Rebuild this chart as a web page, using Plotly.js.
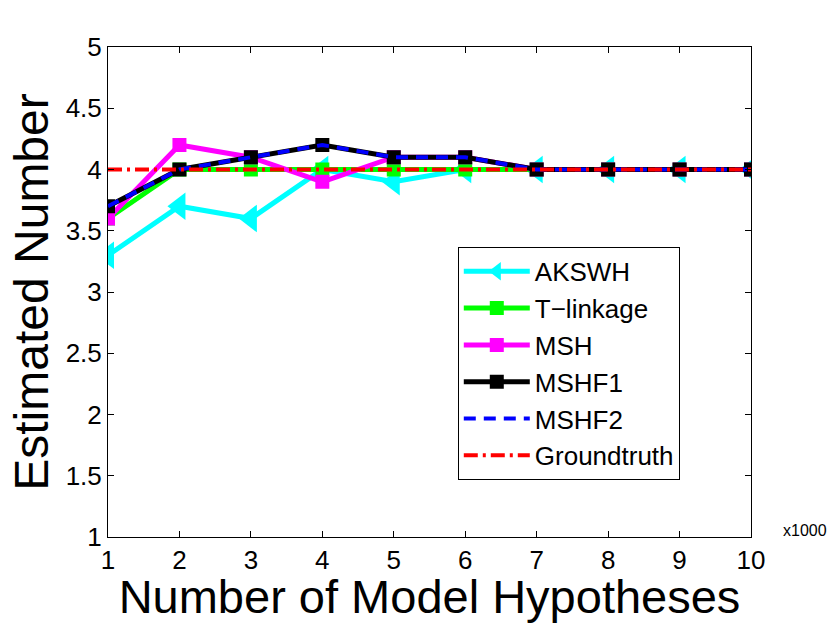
<!DOCTYPE html>
<html>
<head>
<meta charset="utf-8">
<script src="https://cdn.plot.ly/plotly-3.0.1.min.js"></script>
<style>
  html, body { margin: 0; padding: 0; background: #fff; }
  #chart { width: 830px; height: 623px; }
</style>
</head>
<body>
<div id="chart"></div>
<script>
// hypotheses count, in thousands
const hypotheses = [1, 2, 3, 4, 5, 6, 7, 8, 9, 10];

const akswh = [3.3, 3.7, 3.6, 4.0, 3.9, 4.0, 4.0, 4.0, 4.0, 4.0];
const tLinkage = [3.6, 4.0, 4.0, 4.0, 4.0, 4.0, 4.0, 4.0, 4.0, 4.0];
const msh = [3.6, 4.2, 4.1, 3.9, 4.1, 4.1, 4.0, 4.0, 4.0, 4.0];
const mshf1 = [3.7, 4.0, 4.1, 4.2, 4.1, 4.1, 4.0, 4.0, 4.0, 4.0];
const mshf2 = [3.7, 4.0, 4.1, 4.2, 4.1, 4.1, 4.0, 4.0, 4.0, 4.0];
const groundtruth = [4, 4, 4, 4, 4, 4, 4, 4, 4, 4];

const yTicks = [1, 1.5, 2, 2.5, 3, 3.5, 4, 4.5, 5];

const FONT = "Liberation Sans, Arial, Helvetica, sans-serif";

function series(name, ys, color, extra) {
    return Object.assign({
        x: hypotheses,
        y: ys,
        name: name,
        type: "scatter",
        mode: "lines+markers",
        line: { color: color, width: 5 },
        marker: { color: color, symbol: "square", size: 14 },
        hoverinfo: "skip",
    }, extra || {});
}

const traces = [
    series("AKSWH", akswh, "#00ffff", {
        marker: { color: "#00ffff", symbol: "triangle-left", size: 24 },
    }),
    series("T\u2212linkage", tLinkage, "#00ff00"),
    series("MSH", msh, "#ff00ff"),
    series("MSHF1", mshf1, "#000000"),
    series("MSHF2", mshf2, "#0000ff", {
        mode: "lines",
        line: { color: "#0000ff", width: 4, dash: "12px,8px" },
    }),
    series("Groundtruth", groundtruth, "#ff0000", {
        mode: "lines",
        line: { color: "#ff0000", width: 4, dash: "14px,5px,3px,5px" },
    }),
];

const axisCommon = {
    showline: true,
    linecolor: "#000",
    linewidth: 1,
    mirror: "ticks",
    ticks: "inside",
    ticklen: 6,
    tickcolor: "#000",
    showgrid: false,
    zeroline: false,
    tickfont: { family: FONT, size: 26, color: "#000" },
};

const layout = {
    width: 830,
    height: 623,
    margin: { t: 47, r: 79, b: 86, l: 108 },
    paper_bgcolor: "#fff",
    plot_bgcolor: "#fff",
    showlegend: true,
    legend: {
        x: 0.544,
        y: 0.592,
        xanchor: "left",
        yanchor: "top",
        bgcolor: "#fff",
        bordercolor: "#000",
        borderwidth: 1,
        itemwidth: 66,
        font: { family: FONT, size: 26, color: "#000" },
    },
    xaxis: Object.assign({}, axisCommon, {
        range: [1, 10],
        tickvals: hypotheses,
        title: {
            text: "Number of Model Hypotheses",
            font: { family: FONT, size: 47, color: "#000" },
            standoff: 6,
        },
    }),
    yaxis: Object.assign({}, axisCommon, {
        range: [1, 5],
        tickvals: yTicks,
        ticktext: yTicks.map(String),
        title: {
            text: "Estimated Number",
            font: { family: FONT, size: 48, color: "#000" },
            standoff: 1,
        },
    }),
    annotations: [
        {
            text: "x1000",
            xref: "paper",
            yref: "paper",
            x: 1.046,
            y: 0,
            xanchor: "left",
            yanchor: "middle",
            yshift: 7,
            showarrow: false,
            font: { family: FONT, size: 16, color: "#000" },
        },
    ],
};

Plotly.newPlot("chart", traces, layout, { displayModeBar: false, staticPlot: true });
</script>
</body>
</html>
